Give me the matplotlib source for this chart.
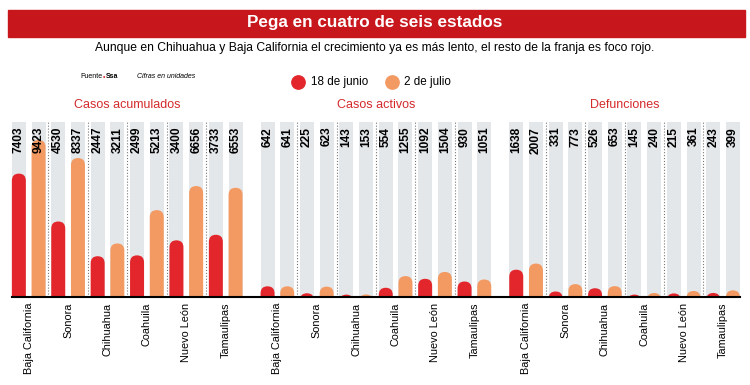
import matplotlib.pyplot as plt
from matplotlib.patches import FancyBboxPatch, Rectangle
from matplotlib.lines import Line2D
from matplotlib.text import Annotation

states = ['Baja California', 'Sonora', 'Chihuahua', 'Coahuila', 'Nuevo León', 'Tamaulipas']
acum_jun = [7403, 4530, 2447, 2499, 3400, 3733]
acum_jul = [9423, 8337, 3211, 5213, 6656, 6553]
activos_jun = [642, 225, 143, 554, 1092, 930]
activos_jul = [641, 623, 153, 1255, 1504, 1051]
def_jun = [1638, 331, 526, 145, 215, 243]
def_jul = [2007, 773, 653, 240, 361, 399]
panel_titles = ['Casos acumulados', 'Casos activos', 'Defunciones']
legend_labels = ['18 de junio', '2 de julio']

plt.rcParams['font.family'] = ['Liberation Sans', 'DejaVu Sans']

RED = '#E2262B'
ORANGE = '#F39A63'
GRAY = '#E4E7E9'
BANNER = '#C8161D'
TITLE_RED = '#D42A2C'

W, H = 750, 385
fig = plt.figure(figsize=(7.5, 3.85), dpi=100)

def fx(p):
    return p / W

def fy(p):
    return 1 - p / H

# header
fig.add_artist(Rectangle((fx(8), fy(37)), fx(737), 27 / H, color=BANNER, transform=fig.transFigure))
fig.text(0.5, fy(23), 'Pega en cuatro de seis estados', color='white', fontsize=12.3,
         fontweight='bold', ha='center', va='center')
fig.text(0.5, fy(48), 'Aunque en Chihuahua y Baja California el crecimiento ya es más lento, '
         'el resto de la franja es foco rojo.', fontsize=8.7, ha='center', va='center')

# source line: pieces chained so they never overlap
t_src = fig.text(fx(80), fy(77), 'Fuente', fontsize=5, ha='left', va='center')
t_dot = fig.add_artist(Annotation('•', xy=(1, 0.5), xycoords=t_src, xytext=(0.5, 0),
                                  textcoords='offset points', fontsize=5, color=RED,
                                  ha='left', va='center'))
fig.add_artist(Annotation('Ssa', xy=(1, 0.5), xycoords=t_dot, xytext=(0.5, 0),
                          textcoords='offset points', fontsize=5, fontweight='bold',
                          ha='left', va='center'))
fig.text(fx(137), fy(77), 'Cifras en unidades', fontsize=5, style='italic', ha='left', va='center')

# legend
for cx, col in [(298, RED), (392, ORANGE)]:
    fig.add_artist(Line2D([fx(cx)], [fy(82)], marker='o', ms=9.6, color=col, lw=0,
                          transform=fig.transFigure))
fig.text(fx(311), fy(82), legend_labels[0], fontsize=8.4, ha='left', va='center')
fig.text(fx(404), fy(82), legend_labels[1], fontsize=8.4, ha='left', va='center')

panels = [(acum_jun, acum_jul), (activos_jun, activos_jul), (def_jun, def_jul)]
YMAX = 10500
AX_W = 236.4
AX_H = 175
BW = 0.71

for i, (jun, jul) in enumerate(panels):
    left = 9 + 248.7 * i
    ax = fig.add_axes([fx(left), fy(297), fx(AX_W), AX_H / H])
    ax.set_xlim(-0.5, 11.5)
    ax.set_ylim(0, YMAX)
    ax.axis('off')
    aspect = (YMAX / AX_H) / (12 / AX_W)
    r = BW / 2
    ry = r * aspect
    vals = []
    for j in range(len(states)):
        vals += [(jun[j], RED), (jul[j], ORANGE)]
    for k, (v, col) in enumerate(vals):
        ax.bar(k, YMAX, width=BW, color=GRAY, zorder=1)
        y0 = min(-ry, v - 2 * ry)
        ax.add_patch(FancyBboxPatch((k - BW / 2, y0), BW, v - y0,
                                    boxstyle=f'round,pad=0,rounding_size={r}',
                                    mutation_aspect=aspect, color=col, lw=0, zorder=2))
        ax.annotate(str(v), (k, 1), xycoords=('data', 'axes fraction'), xytext=(0, -3.5),
                    textcoords='offset points', rotation=90, ha='center', va='top',
                    fontsize=8.6, fontweight='bold', zorder=3)
    for j in range(1, len(states)):
        ax.axvline(2 * j - 0.5, color='#777777', ls=':', lw=0.8, zorder=1.5)
    for j, s in enumerate(states):
        ax.annotate(s, (2 * j + 0.5, 0), xycoords='data', xytext=(0, -4),
                    textcoords='offset points', rotation=90, ha='center', va='top',
                    fontsize=7.8, annotation_clip=False)
    fig.text(fx(left + AX_W / 2), fy(105), panel_titles[i], color=TITLE_RED,
             fontsize=9, ha='center', va='center')

fig.add_artist(Line2D([fx(12), fx(740)], [fy(297), fy(297)], color='black', lw=1.5,
                      transform=fig.transFigure))

fig.savefig('out.png', dpi=100)
